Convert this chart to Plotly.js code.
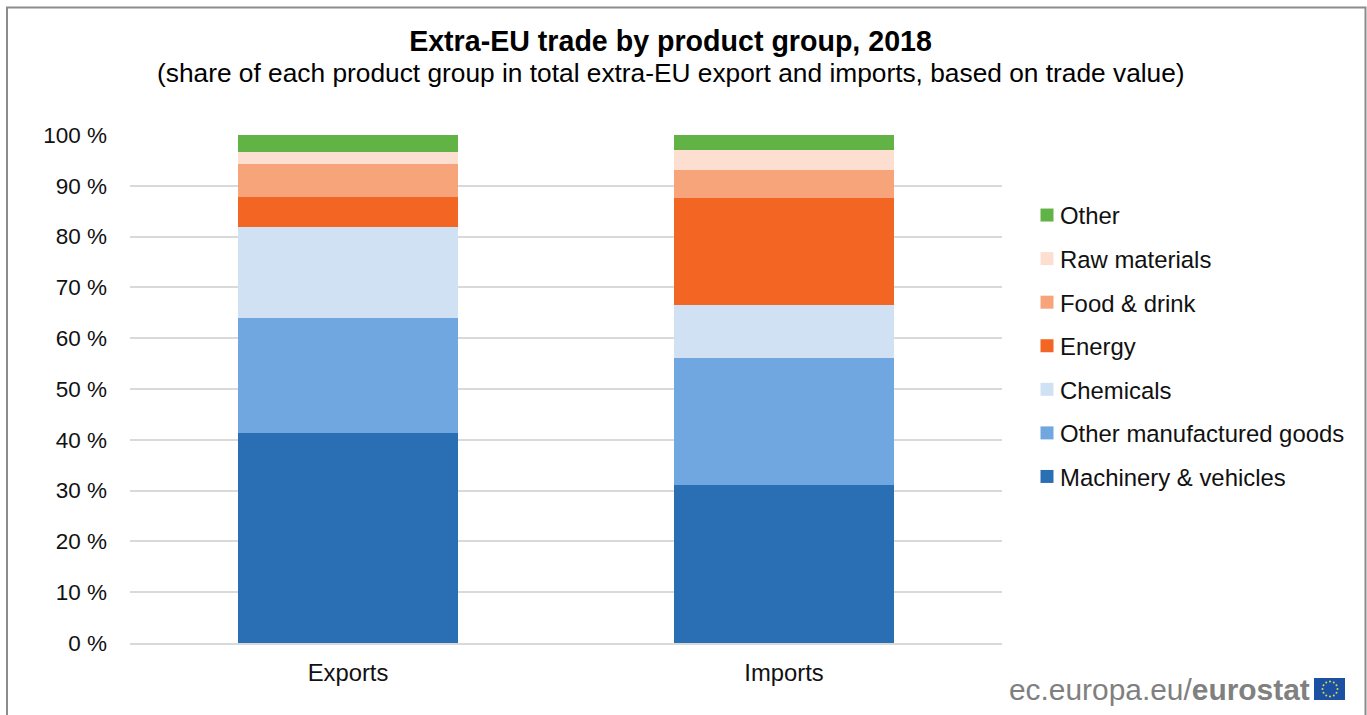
<!DOCTYPE html>
<html>
<head>
<meta charset="utf-8">
<script src="https://cdn.plot.ly/plotly-3.0.1.min.js"></script>
<style>html,body{margin:0;padding:0;background:#fff;overflow:hidden}#chart{width:1367px;height:715px}</style>
</head>
<body>
<div id="chart"></div>
<script>
const flows = ['Exports', 'Imports'];
const machinery = [41.3, 31.1];
const otherManufactured = [22.7, 25.0];
const chemicals = [17.9, 10.4];
const energy = [5.9, 21.1];
const foodDrink = [6.5, 5.5];
const rawMaterials = [2.4, 3.9];
const other = [3.3, 3.0];
const tickValues = [0, 10, 20, 30, 40, 50, 60, 70, 80, 90, 100];
const tickLabels = tickValues.map(v => v + ' %');

const groups = [
  ['Machinery & vehicles', machinery, '#2a6eb4'],
  ['Other manufactured goods', otherManufactured, '#71a7e0'],
  ['Chemicals', chemicals, '#d0e1f3'],
  ['Energy', energy, '#f26522'],
  ['Food & drink', foodDrink, '#f7a47a'],
  ['Raw materials', rawMaterials, '#fddfd1'],
  ['Other', other, '#62b346']
];

const FONT = 'Liberation Sans, Arial, sans-serif';
const W = 1367, H = 715;
const M = {l: 130, r: 365, t: 135, b: 72};
const px = x => (x - M.l) / (W - M.l - M.r);
const py = y => (H - M.b - y) / (H - M.t - M.b);

// Stacked bars, plus square-marker twins that carry the legend entries (top of stack first)
const traces = [];
groups.forEach(([name, values, color]) => {
  traces.push({type: 'bar', name, x: flows, y: values, width: 0.503,
    marker: {color, line: {width: 0}}, showlegend: false, hoverinfo: 'x+y+name'});
});
groups.slice().reverse().forEach(([name, , color]) => {
  traces.push({type: 'scatter', mode: 'markers', name, x: [null], y: [null], legendgroup: name,
    marker: {symbol: 'square', size: 13, color}, showlegend: true});
});

// Outer frame
const shapes = [{type: 'rect', xref: 'paper', yref: 'paper', layer: 'below',
  x0: px(7), x1: px(1365.5), y0: py(7.5), y1: py(740),
  line: {color: '#8c8c8c', width: 2}, fillcolor: 'rgba(0,0,0,0)'}];

// EU flag beside the wordmark: blue field and a ring of twelve stars
const flagX = 1330, flagY = 689;
shapes.push({type: 'rect', xref: 'paper', yref: 'paper',
  x0: px(1314), x1: px(1345), y0: py(678), y1: py(700),
  line: {width: 0}, fillcolor: '#1c50a2'});
for (let i = 0; i < 12; i++) {
  const a = i * Math.PI / 6;
  const cx = flagX + 7.5 * Math.cos(a), cy = flagY + 7.5 * Math.sin(a);
  shapes.push({type: 'circle', xref: 'paper', yref: 'paper',
    x0: px(cx - 1), x1: px(cx + 1), y0: py(cy - 1), y1: py(cy + 1),
    line: {width: 0}, fillcolor: '#dcdc4a'});
}

const layout = {
  width: W, height: H,
  margin: {l: M.l, r: M.r, t: M.t, b: M.b, pad: 0},
  paper_bgcolor: '#fff', plot_bgcolor: '#fff',
  barmode: 'stack',
  font: {family: FONT, color: '#111'},
  title: {
    text: '<b>Extra-EU trade by product group, 2018</b>',
    font: {family: FONT, size: 28.6, color: '#000'},
    x: 670.5 / W, xanchor: 'center', y: 1 - 50.5 / H, yanchor: 'bottom', yref: 'container'
  },
  xaxis: {
    type: 'category', range: [-0.5, 1.5], fixedrange: true,
    showline: true, linecolor: '#d9d9d9', linewidth: 2, showgrid: false,
    ticks: '', ticklabelstandoff: 7,
    tickfont: {family: FONT, size: 23.8, color: '#111'}
  },
  yaxis: {
    range: [0, 100], fixedrange: true, tickmode: 'array', tickvals: tickValues, ticktext: tickLabels,
    showgrid: true, gridcolor: '#d9d9d9', gridwidth: 2, zeroline: false, showline: false,
    ticks: '', ticklabelstandoff: 22,
    tickfont: {family: FONT, size: 22.5, color: '#111'}
  },
  legend: {
    x: px(1020), y: py(193), xanchor: 'left', yanchor: 'top',
    traceorder: 'grouped', tracegroupgap: 9.5,
    font: {family: FONT, size: 23.9, color: '#111'},
    bgcolor: 'rgba(0,0,0,0)', borderwidth: 0
  },
  shapes,
  annotations: [{
    xref: 'paper', yref: 'paper', x: px(670.5), y: py(73), xanchor: 'center', yanchor: 'middle',
    showarrow: false, font: {family: FONT, size: 26.3, color: '#000'},
    text: '(share of each product group in total extra-EU export and imports, based on trade value)'
  }, {
    xref: 'paper', yref: 'paper', x: px(1312), y: py(689), xanchor: 'right', yanchor: 'middle',
    showarrow: false, font: {family: FONT, size: 29.9, color: '#808080'},
    text: 'ec.europa.eu/<b>eurostat</b>'
  }]
};

Plotly.newPlot('chart', traces, layout, {displayModeBar: false, staticPlot: true}).then(gd => {
  // Bring the legend squares closer to their labels
  gd.querySelectorAll('.legend .legendsymbols').forEach(node => {
    node.setAttribute('transform', 'translate(7,0)');
  });
});
</script>
</body>
</html>
